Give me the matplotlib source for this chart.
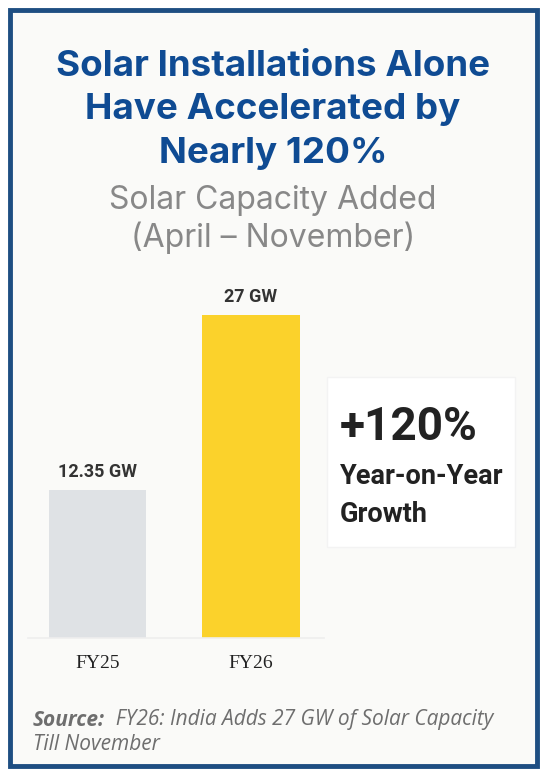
import matplotlib
matplotlib.use('Agg')
import matplotlib.pyplot as plt
import matplotlib.patches as mpatches
from matplotlib.text import Annotation

# --- palette ---
NAVY = '#1E4E82'
TITLE = '#0F4B93'
GREY_TXT = '#888888'
BAR_GREY = '#DFE2E5'
BAR_YEL = '#FBD22B'
DARK = '#222222'
BG = '#FAFAF8'

# --- data ---
categories = ['FY25', 'FY26']
capacity_gw = [12.35, 27]
value_labels = ['12.35 GW', '27 GW']
growth_pct = 120

W, H = 546, 778
fig = plt.figure(figsize=(W / 100, H / 100), dpi=100)
fig.patch.set_facecolor('white')

def fx(px):
    return px / W

def fy(py):
    return 1 - py / H

# card with navy frame
fig.patches.append(mpatches.Rectangle((fx(10), fy(766)), fx(527), 756 / H,
                                      transform=fig.transFigure, facecolor=BG,
                                      edgecolor=NAVY, linewidth=3.5, zorder=-5))

# titles
for txt, y in zip(['Solar Installations Alone', 'Have Accelerated by', 'Nearly 120%'],
                  [66, 110, 153]):
    fig.text(0.5, fy(y), txt, ha='center', va='center', fontsize=26.5,
             fontweight='bold', color=TITLE, family=['Inter', 'DejaVu Sans'])
for txt, y in zip(['Solar Capacity Added', '(April \u2013 November)'], [200, 238]):
    fig.text(0.5, fy(y), txt, ha='center', va='center', fontsize=23,
             color=GREY_TXT, family=['Inter', 'DejaVu Sans'])

# bar chart
ax = fig.add_axes([fx(28), fy(638), fx(324 - 28), (638 - 280) / H])
ax.set_facecolor('none')
x = range(len(categories))
ax.bar(x, capacity_gw, width=0.635, color=[BAR_GREY, BAR_YEL], zorder=2)
ax.set_xlim(-0.453, 1.476)
ax.set_ylim(0, 29.9)
for i, (v, lab) in enumerate(zip(capacity_gw, value_labels)):
    ax.annotate(lab, (i, v), xytext=(0, 13), textcoords='offset points',
                ha='center', va='center', fontsize=13, fontweight='bold',
                color='#333333', family=['Roboto', 'DejaVu Sans'])
ax.set_xticks(list(x))
ax.set_xticklabels(categories, fontsize=14, color='#222222',
                   family=['Liberation Serif', 'DejaVu Serif'])
ax.tick_params(axis='x', length=0, pad=12)
ax.set_yticks([])
for s in ['top', 'right', 'left']:
    ax.spines[s].set_visible(False)
ax.spines['bottom'].set_color('#EEEEEE')
ax.spines['bottom'].set_linewidth(1.2)

# growth call-out box
fig.patches.append(mpatches.Rectangle((fx(327), fy(547)), fx(515 - 327), (547 - 377) / H,
                                      transform=fig.transFigure, facecolor='white',
                                      edgecolor='#F3F3F3', linewidth=1, zorder=1))
fig.text(fx(340), fy(427), f'+{growth_pct}%', ha='left', va='center', fontsize=33,
         fontweight='bold', color=DARK, family=['Roboto', 'DejaVu Sans'])
fig.text(fx(340), fy(476), 'Year-on-Year', ha='left', va='center', fontsize=19.5,
         fontweight='bold', color=DARK, family=['Roboto', 'DejaVu Sans'])
fig.text(fx(340), fy(514), 'Growth', ha='left', va='center', fontsize=19.5,
         fontweight='bold', color=DARK, family=['Roboto', 'DejaVu Sans'])

# source note
src = fig.text(fx(33), fy(720), 'Source:', ha='left', va='center', fontsize=15,
               color='#6E6E6E', style='italic', fontweight='bold',
               family=['Open Sans', 'DejaVu Sans'])
fig.add_artist(Annotation(
    '  FY26: India Adds 27 GW of Solar Capacity', xy=(1, 0.5), xycoords=src,
    ha='left', va='center', fontsize=15, color='#6E6E6E', style='italic',
    family=['Open Sans', 'DejaVu Sans']))
fig.text(fx(33), fy(745), 'Till November', ha='left', va='center', fontsize=15,
         color='#6E6E6E', style='italic', family=['Open Sans', 'DejaVu Sans'])

fig.savefig('out.png', dpi=100, facecolor='white')
